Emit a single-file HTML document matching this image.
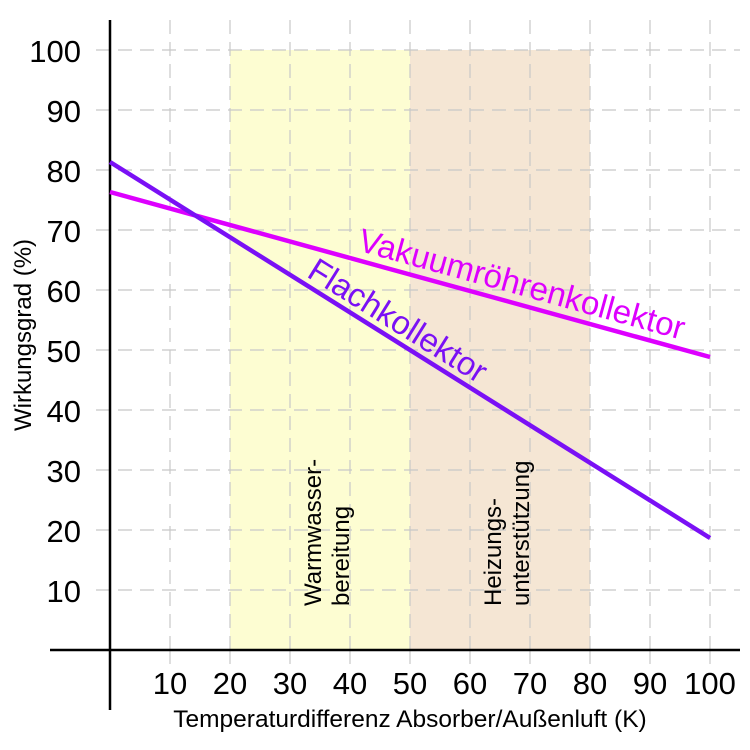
<!DOCTYPE html>
<html><head><meta charset="utf-8"><style>body{margin:0;background:#fff}svg{display:block}</style></head><body>
<svg width="750" height="750" xmlns="http://www.w3.org/2000/svg" font-family="Liberation Sans, sans-serif">
<rect width="750" height="750" fill="#fff"/>
<rect x="230" y="50" width="180" height="600" fill="#fdfdd2"/>
<rect x="410" y="50" width="180" height="600" fill="#f5e6d4"/>
<g stroke="#c8c8c8" stroke-width="1.2" stroke-dasharray="14,8">
<line x1="96" y1="50" x2="740" y2="50"/><line x1="96" y1="110" x2="740" y2="110"/><line x1="96" y1="170" x2="740" y2="170"/><line x1="96" y1="230" x2="740" y2="230"/><line x1="96" y1="290" x2="740" y2="290"/><line x1="96" y1="350" x2="740" y2="350"/><line x1="96" y1="410" x2="740" y2="410"/><line x1="96" y1="470" x2="740" y2="470"/><line x1="96" y1="530" x2="740" y2="530"/><line x1="96" y1="590" x2="740" y2="590"/>
<line x1="170" y1="20" x2="170" y2="650"/><line x1="230" y1="20" x2="230" y2="650"/><line x1="290" y1="20" x2="290" y2="650"/><line x1="350" y1="20" x2="350" y2="650"/><line x1="410" y1="20" x2="410" y2="650"/><line x1="470" y1="20" x2="470" y2="650"/><line x1="530" y1="20" x2="530" y2="650"/><line x1="590" y1="20" x2="590" y2="650"/><line x1="650" y1="20" x2="650" y2="650"/><line x1="710" y1="20" x2="710" y2="650"/>
</g>
<g stroke="#c8c8c8" stroke-width="1.2">
<line x1="170" y1="650" x2="170" y2="664"/><line x1="230" y1="650" x2="230" y2="664"/><line x1="290" y1="650" x2="290" y2="664"/><line x1="350" y1="650" x2="350" y2="664"/><line x1="410" y1="650" x2="410" y2="664"/><line x1="470" y1="650" x2="470" y2="664"/><line x1="530" y1="650" x2="530" y2="664"/><line x1="590" y1="650" x2="590" y2="664"/><line x1="650" y1="650" x2="650" y2="664"/><line x1="710" y1="650" x2="710" y2="664"/>
</g>
<line x1="50" y1="650" x2="740" y2="650" stroke="#000" stroke-width="2.5"/>
<line x1="110" y1="20" x2="110" y2="710" stroke="#000" stroke-width="2.5"/>
<line x1="110" y1="192" x2="710" y2="357" stroke="#dd00ff" stroke-width="4.5"/>
<line x1="110" y1="162" x2="710" y2="538" stroke="#7a10f5" stroke-width="4.5"/>
<g font-size="31" text-anchor="end" fill="#000">
<text x="81" y="62">100</text><text x="81" y="122">90</text><text x="81" y="182">80</text><text x="81" y="242">70</text><text x="81" y="302">60</text><text x="81" y="362">50</text><text x="81" y="422">40</text><text x="81" y="482">30</text><text x="81" y="542">20</text><text x="81" y="602">10</text>
</g>
<g font-size="31" text-anchor="middle" fill="#000">
<text x="170" y="694">10</text><text x="230" y="694">20</text><text x="290" y="694">30</text><text x="350" y="694">40</text><text x="410" y="694">50</text><text x="470" y="694">60</text><text x="530" y="694">70</text><text x="590" y="694">80</text><text x="650" y="694">90</text><text x="710" y="694">100</text>
</g>
<text x="410" y="727" font-size="24.5" text-anchor="middle">Temperaturdifferenz Absorber/Außenluft (K)</text>
<text transform="translate(31,335) rotate(-90)" font-size="24" text-anchor="middle">Wirkungsgrad (%)</text>
<text transform="translate(519,295) rotate(15.4)" font-size="33" fill="#dd00ff" text-anchor="middle">Vakuumröhrenkollektor</text>
<text transform="translate(392,330) rotate(32)" font-size="33" fill="#7a10f5" text-anchor="middle">Flachkollektor</text>
<g font-size="24" fill="#000">
<text transform="translate(321,606) rotate(-90)">Warmwasser-</text>
<text transform="translate(349,606) rotate(-90)">bereitung</text>
<text transform="translate(501,606) rotate(-90)">Heizungs-</text>
<text transform="translate(529,606) rotate(-90)">unterstützung</text>
</g>
</svg>
</body></html>
